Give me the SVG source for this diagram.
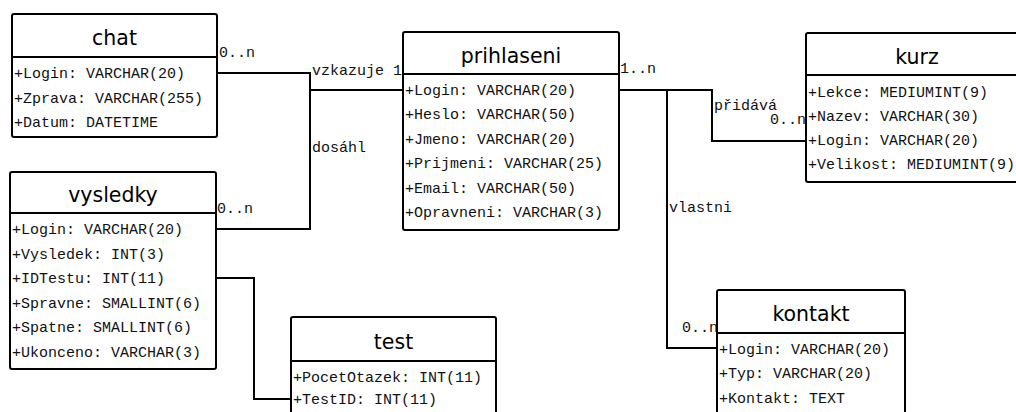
<svg xmlns="http://www.w3.org/2000/svg" width="1016" height="412" viewBox="0 0 1016 412">
<style>
.box{fill:#fff;stroke:#000;stroke-width:2}
.div{stroke:#000;stroke-width:2}
.hd{font-family:"DejaVu Sans",sans-serif;font-size:20.5px;fill:#000;text-anchor:middle}
.at{font-family:"Liberation Mono","Courier New",monospace;font-size:15px;fill:#111}
.lb{font-family:"Liberation Mono","Courier New",monospace;font-size:15px;fill:#111}
.cn{fill:none;stroke:#000;stroke-width:2}
</style>
<rect width="1016" height="412" fill="#fff"/>
<g id="connectors">
<path class="cn" d="M217,73 H310 V90 H403"/>
<path class="cn" d="M216,229 H310 V90"/>
<path class="cn" d="M619,90 H712 V141 H806"/>
<path class="cn" d="M667,90 V348 H717"/>
<path class="cn" d="M216,278 H254 V399 H291"/>
<text class="lb" x="219" y="57">0..n</text>
<text class="lb" x="312" y="75">vzkazuje 1</text>
<text class="lb" x="312" y="152">dosáhl</text>
<text class="lb" x="217" y="213">0..n</text>
<text class="lb" x="620" y="73">1..n</text>
<text class="lb" x="714" y="110">přidává</text>
<text class="lb" x="806" y="124" text-anchor="end">0..n</text>
<text class="lb" x="669" y="212">vlastni</text>
<text class="lb" x="718" y="332" text-anchor="end">0..n</text>
</g>
<g id="chat">
<rect class="box" x="12" y="14" width="205" height="123" rx="2"/>
<line class="div" x1="12" y1="57" x2="217" y2="57"/>
<text class="hd" x="114.5" y="45">chat</text>
<text class="at" x="14" y="78">+Login: VARCHAR(20)</text>
<text class="at" x="14" y="102.5">+Zprava: VARCHAR(255)</text>
<text class="at" x="14" y="127">+Datum: DATETIME</text>
</g>
<g id="vysledky">
<rect class="box" x="10" y="172" width="206" height="197" rx="2"/>
<line class="div" x1="10" y1="213" x2="216" y2="213"/>
<text class="hd" x="113" y="202">vysledky</text>
<text class="at" x="12" y="234">+Login: VARCHAR(20)</text>
<text class="at" x="12" y="258.5">+Vysledek: INT(3)</text>
<text class="at" x="12" y="283">+IDTestu: INT(11)</text>
<text class="at" x="12" y="307.5">+Spravne: SMALLINT(6)</text>
<text class="at" x="12" y="332">+Spatne: SMALLINT(6)</text>
<text class="at" x="12" y="356.5">+Ukonceno: VARCHAR(3)</text>
</g>
<g id="prihlaseni">
<rect class="box" x="403" y="32" width="216" height="198" rx="2"/>
<line class="div" x1="403" y1="74" x2="619" y2="74"/>
<text class="hd" x="511" y="62.5">prihlaseni</text>
<text class="at" x="405" y="94.5">+Login: VARCHAR(20)</text>
<text class="at" x="405" y="119">+Heslo: VARCHAR(50)</text>
<text class="at" x="405" y="143.5">+Jmeno: VARCHAR(20)</text>
<text class="at" x="405" y="168">+Prijmeni: VARCHAR(25)</text>
<text class="at" x="405" y="192.5">+Email: VARCHAR(50)</text>
<text class="at" x="405" y="217">+Opravneni: VARCHAR(3)</text>
</g>
<g id="kurz">
<rect class="box" x="806" y="33" width="222" height="149" rx="2"/>
<line class="div" x1="806" y1="75" x2="1028" y2="75"/>
<text class="hd" x="917" y="63.5">kurz</text>
<text class="at" x="808" y="97">+Lekce: MEDIUMINT(9)</text>
<text class="at" x="808" y="121">+Nazev: VARCHAR(30)</text>
<text class="at" x="808" y="145">+Login: VARCHAR(20)</text>
<text class="at" x="808" y="169">+Velikost: MEDIUMINT(9)</text>
</g>
<g id="kontakt">
<rect class="box" x="717" y="290" width="188" height="140" rx="2"/>
<line class="div" x1="717" y1="333" x2="905" y2="333"/>
<text class="hd" x="811" y="321">kontakt</text>
<text class="at" x="719" y="353.5">+Login: VARCHAR(20)</text>
<text class="at" x="719" y="378">+Typ: VARCHAR(20)</text>
<text class="at" x="719" y="402.5">+Kontakt: TEXT</text>
</g>
<g id="test">
<rect class="box" x="291" y="317" width="205" height="113" rx="2"/>
<line class="div" x1="291" y1="361" x2="496" y2="361"/>
<text class="hd" x="393.5" y="348.5">test</text>
<text class="at" x="293" y="381.5">+PocetOtazek: INT(11)</text>
<text class="at" x="293" y="404">+TestID: INT(11)</text>
</g>
</svg>
